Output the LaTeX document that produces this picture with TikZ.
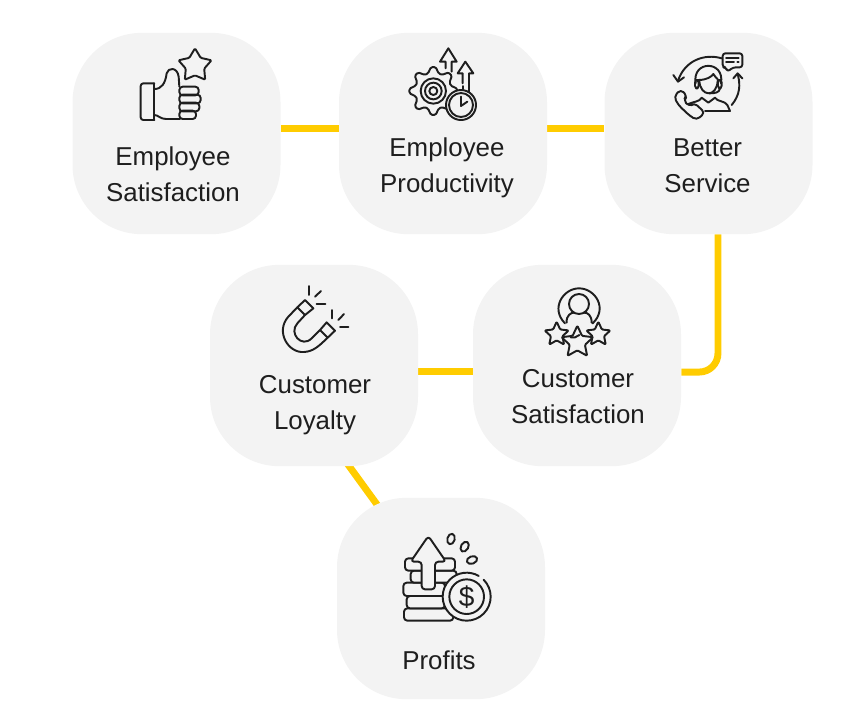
\documentclass[tikz,border=0pt]{standalone}
\usepackage{fontspec}
\setmainfont{Liberation Sans}
\usetikzlibrary{arrows.meta,backgrounds}
\definecolor{boxgray}{HTML}{F3F3F3}
\definecolor{linkyellow}{HTML}{FFCC00}
\definecolor{ink}{HTML}{1E1E1E}
\tikzset{
  boxnode/.style={fill=boxgray,rounded corners=52pt,minimum width=156pt,minimum height=151pt,inner sep=0pt},
  link/.style={draw=linkyellow,line width=5.2pt},
  label/.style={text=ink,align=center,font=\fontsize{19.4pt}{27pt}\selectfont,inner sep=0pt},
  ic/.style={draw=ink,line width=1.45pt,line join=round,line cap=round},
  icf/.style={ic,fill=boxgray},
  zoomed/.style={shift={#1},scale=0.33333}
}
\newcommand{\starshape}[4]{\path[icf,rounded corners=0.8pt] plot[samples at={0,1,...,9},variable=\k]
  ({#1+(mod(\k,2)==0 ? #3 : #4)*sin(36*\k)},{#2-(mod(\k,2)==0 ? #3 : #4)*cos(36*\k)}) -- cycle;}
\begin{document}
\begin{tikzpicture}[x=0.75pt,y=-0.75pt]
\useasboundingbox (0,0) rectangle (863,719);
% boxes
\node[boxnode] (A) at (176.5,133.5) {};
\node[boxnode] (B) at (443,133.5) {};
\node[boxnode] (C) at (708.5,133.5) {};
\node[boxnode] (D) at (314,365.5) {};
\node[boxnode] (E) at (577,365.5) {};
\node[boxnode] (F) at (441,598.5) {};
% connectors
\begin{scope}[on background layer]
\draw[link] ([yshift=3.75pt]A.east) -- ([yshift=3.75pt]B.west);
\draw[link] ([yshift=4pt]B.east) -- ([yshift=4pt]C.west);
\draw[link,rounded corners=14pt] ([xshift=7.1pt]C.south) |- ([yshift=-4.9pt]E.east);
\draw[link] ([yshift=-4.2pt]D.east) -- ([yshift=-4.2pt]E.west);
\draw[link] ([xshift=23.25pt,yshift=4.5pt]D.south) -- ([xshift=-42.75pt,yshift=-12.4pt]F.north);
\end{scope}
% labels
\node[label] (At) at (173,174.5) {Employee\\Satisfaction};
\node[label] (Bt) at (447,168) {Employee\\Productivity};
\node[label] (Ct) at (707.5,166) {Better\\Service};
\node[label] (Dt) at (315,405) {Customer\\Loyalty};
\node[label] (Et) at (578,397) {Customer\\Satisfaction};
\node[label] (Ft) at (439,660) {Profits};
% icon 1: thumb and star
\begin{scope}[zoomed={(60,20)}]
\draw[ic,rounded corners=2pt] (283,190) -- (242,190) -- (242,300) -- (283,300);
\draw[ic] (283,190) -- (283,300);
\draw[ic] (283,207) .. controls (305,207) and (316,190) .. (320,160) .. controls (324,142) and (352,140) .. (356,170) -- (358,200);
\draw[ic] (283,285) .. controls (295,285) and (300,297) .. (318,297) -- (360,297);
\foreach \ya/\yb/\xe in {200/226/416,224/250/422,248/274/418,272/297/408}
  \draw[ic,rounded corners=2.5pt] (358,\ya) -- (\xe,\ya) -- (\xe,\yb) -- (358,\yb) -- cycle;
\starshape{405}{137}{52}{29}
\end{scope}
% icon 2: gear, clock, arrows
\begin{scope}[zoomed={(390,30)}]
\draw[ic] (175,55) -- (200,95) -- (185,95) -- (185,125);
\draw[ic] (175,55) -- (150,95) -- (167,95) -- (167,115);
\draw[ic] (226,95) -- (250,130) -- (237,130) -- (237,190);
\draw[ic] (226,95) -- (203,130) -- (218,130) -- (218,160);
\draw[ic] (218,168) -- (218,178);
\path[icf,rounded corners=1pt] plot[samples at={0,1,...,31},variable=\k]
  ({130+(mod(\k,4)<2 ? 72 : 55)*cos(11.25*\k-5.6)},{183+(mod(\k,4)<2 ? 72 : 55)*sin(11.25*\k-5.6)}) -- cycle;
\draw[ic] (130,183) circle (38);
\draw[ic] (130,183) circle (25);
\draw[ic] (130,183) circle (12);
\draw[icf] (213,225) circle (45);
\draw[ic] (213,225) circle (36);
\draw[ic] (213,200) -- (213,228) -- (232,215);
\end{scope}
% icon 3: agent
\begin{scope}[zoomed={(650,30)}]
\draw[ic] (215,85) .. controls (165,70) and (105,90) .. (84,152);
\draw[ic] (70,135) -- (84,155) -- (102,142);
\draw[ic] (245,225) .. controls (270,195) and (272,165) .. (263,132);
\draw[ic] (250,145) -- (263,130) -- (277,145);
\draw[ic,rounded corners=2pt] (218,70) -- (277,70) -- (277,112) -- (250,112) -- (232,125) -- (228,112) -- (218,112) -- cycle;
\draw[ic] (228,85) -- (266,85);
\draw[ic] (228,97) -- (252,97);
\draw[ic] (262,97) -- (266,97);
\draw[ic] (137,160) .. controls (125,90) and (225,90) .. (213,160);
\draw[ic] (145,150) .. controls (170,150) and (185,140) .. (190,132) .. controls (195,140) and (200,145) .. (205,150);
\draw[ic] (148,152) .. controls (150,200) and (200,205) .. (203,152);
\draw[ic,rounded corners=2pt] (135,150) rectangle (146,175);
\draw[ic,rounded corners=2pt] (204,150) rectangle (215,175);
\draw[ic] (210,175) .. controls (208,188) and (195,190) .. (178,190);
\draw[ic] (115,222) .. controls (130,215) and (150,215) .. (155,203) -- (175,218) -- (195,203) .. controls (200,215) and (225,212) .. (232,225) -- (240,243) -- (165,243);
\draw[ic,rounded corners=3pt] (92,178) -- (112,198) -- (100,210) -- (118,230) -- (132,218) -- (165,248) -- (140,270) -- (120,258) -- (85,225) -- (72,200) -- cycle;
\end{scope}
% icon 4: magnet
\begin{scope}[zoomed={(260,270)}]
\draw[ic] (135,90) -- (160,115) -- (135,135) -- (112,112) -- cycle;
\draw[ic] (200,157) -- (225,182) -- (203,203) -- (180,180) -- cycle;
\draw[ic] (112,112) -- (85,140) .. controls (45,185) and (85,250) .. (132,246) .. controls (160,244) and (175,230) .. (203,203);
\draw[ic] (135,135) -- (112,160) .. controls (85,190) and (125,235) .. (155,205) -- (180,180);
\draw[ic] (147,48) -- (147,75);
\draw[ic] (183,63) -- (165,80);
\draw[ic] (170,102) -- (196,102);
\draw[ic] (215,120) -- (215,145);
\draw[ic] (252,132) -- (235,150);
\draw[ic] (240,170) -- (265,170);
\end{scope}
% icon 5: customer and stars
\begin{scope}[zoomed={(530,280)}]
\draw[ic] (105,130) .. controls (60,85) and (100,25) .. (147,25) .. controls (195,25) and (235,85) .. (188,130);
\draw[ic] (147,72) circle (30);
\draw[ic] (110,128) .. controls (108,105) and (125,97) .. (132,98);
\draw[ic] (162,98) .. controls (172,97) and (185,105) .. (185,128);
\starshape{80}{163}{38}{18}
\starshape{205}{163}{38}{18}
\starshape{142}{187}{50}{24}
\draw[ic] (122,172) -- (135,172) -- (148,165);
\end{scope}
% icon 6: coins, arrow, dollar
\begin{scope}[zoomed={(390,520)}]
\draw[icf,rounded corners=2.5pt] (42,265) rectangle (190,302);
\draw[icf,rounded corners=2.5pt] (50,228) rectangle (165,265);
\draw[icf,rounded corners=2.5pt] (40,188) rectangle (165,228);
\draw[icf,rounded corners=2.5pt] (62,152) rectangle (200,188);
\draw[icf,rounded corners=2.5pt] (45,115) rectangle (195,152);
\path[icf,rounded corners=2.5pt] (115,48) -- (168,125) -- (135,125) -- (135,208) -- (95,208) -- (95,125) -- (62,125) -- cycle;
\fill[boxgray] (230,230) circle (72);
\draw[ic] (230,230) circle (52);
\draw[ic] ([shift={(230,230)}]-45:72) arc (-45:300:72);
\node[text=ink,font=\fontsize{21pt}{21pt}\selectfont,inner sep=0pt] (Fd) at (230,230) {\$};
\draw[ic,rotate around={-15:(183,57)}] (183,57) ellipse (11 and 16);
\draw[ic,rotate around={-30:(224,80)}] (224,80) ellipse (11 and 16);
\draw[ic,rotate around={-70:(246,120)}] (246,120) ellipse (11 and 16);
\end{scope}
\end{tikzpicture}
\end{document}
